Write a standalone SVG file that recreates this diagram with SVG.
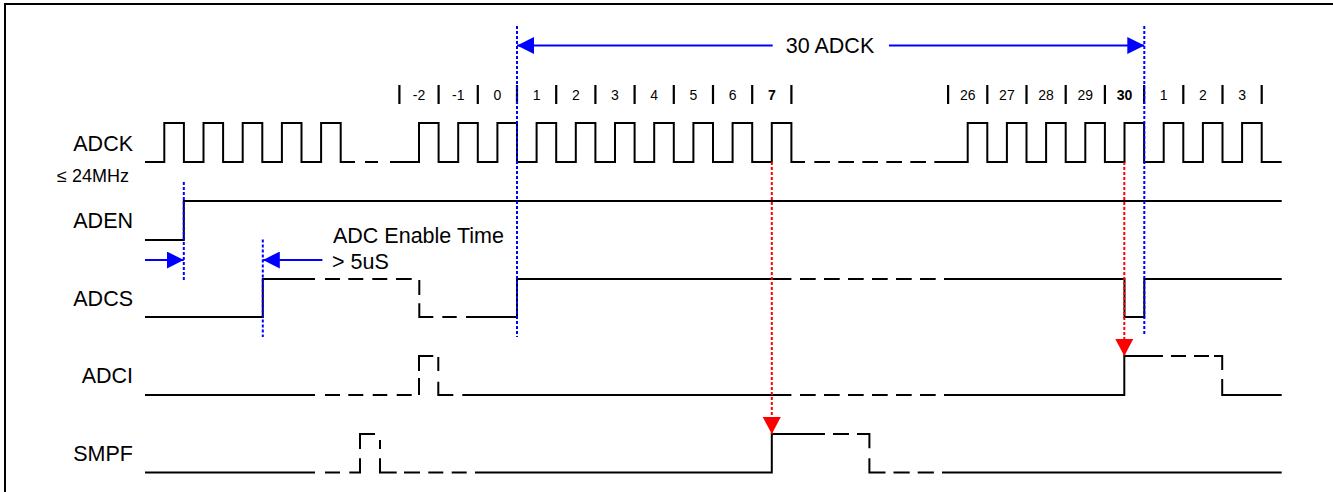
<svg xmlns="http://www.w3.org/2000/svg" width="1333" height="492" viewBox="0 0 1333 492">
<defs>
<style>
.w{fill:none;stroke:#000;stroke-width:2;stroke-linejoin:miter;stroke-linecap:butt}
.t{font-family:"Liberation Sans",Arial,sans-serif;fill:#000}
.lbl{font-size:21.5px;text-anchor:end}
.num{font-size:14px;text-anchor:middle}
.b{font-weight:bold}
.bar{stroke:#000;stroke-width:2.2}
.bdot{fill:none;stroke:#0000FF;stroke-width:2;stroke-dasharray:3 2}
.rdot{fill:none;stroke:#FF0000;stroke-width:2;stroke-dasharray:3 2}
.barr{fill:none;stroke:#0000FF;stroke-width:2}
</style>
<marker id="ab" markerUnits="userSpaceOnUse" markerWidth="17" markerHeight="17" viewBox="0 0 17 17" refX="17" refY="8.5" orient="auto"><path d="M0,0L17,8.5L0,17z" fill="#0000FF"/></marker>
<marker id="ar" markerUnits="userSpaceOnUse" markerWidth="17" markerHeight="18" viewBox="0 0 17 18" refX="17" refY="9" orient="auto"><path d="M0,0L17,9L0,18z" fill="#FF0000"/></marker>
</defs>
<rect width="1333" height="492" fill="#fff"/>
<path id="frame" d="M5,492V4H1333" fill="none" stroke="#000" stroke-width="2"/>

<g id="timescale">
<path class="bar" d="M399.4,85V104M438.6,85V104M477.8,85V104M517,85V104M556.2,85V104M595.4,85V104M634.6,85V104M673.8,85V104M713,85V104M752.2,85V104M791.4,85V104M948.1,85V104M987.3,85V104M1026.5,85V104M1065.7,85V104M1104.9,85V104M1144.1,85V104M1183.3,85V104M1222.5,85V104M1261.7,85V104"/>
<g class="t num">
<text x="419" y="99.5">-2</text>
<text x="458.2" y="99.5">-1</text>
<text x="497.4" y="99.5">0</text>
<text x="536.6" y="99.5">1</text>
<text x="575.8" y="99.5">2</text>
<text x="615" y="99.5">3</text>
<text x="654.2" y="99.5">4</text>
<text x="693.4" y="99.5">5</text>
<text x="732.6" y="99.5">6</text>
<text x="771.8" y="99.5" class="b">7</text>
<text x="967.7" y="99.5">26</text>
<text x="1006.9" y="99.5">27</text>
<text x="1046.1" y="99.5">28</text>
<text x="1085.3" y="99.5">29</text>
<text x="1124.5" y="99.5" class="b">30</text>
<text x="1163.7" y="99.5">1</text>
<text x="1202.9" y="99.5">2</text>
<text x="1242.1" y="99.5">3</text>
</g>
</g>

<g id="adck">
<text class="t lbl" x="133" y="151">ADCK</text>
<text class="t" x="129" y="182" font-size="18" text-anchor="end">≤ 24MHz</text>
<path class="w" d="M145,162H164.3V123H183.9V162H203.5V123H223.1V162H242.7V123H262.3V162H281.9V123H301.5V162H321.1V123H340.7V162H355M365,162H378M390,162H419V123H438.6V162H458.2V123H477.8V162H497.4V123H517V162H536.6V123H556.2V162H575.8V123H595.4V162H615V123H634.6V162H654.2V123H673.8V162H693.4V123H713V162H732.6V123H752.2V162H771.8V123H791.4V162H805M814.3,162H830M838.3,162H854M862.3,162H878M886.3,162H902M910.3,162H926M934.3,162H967.7V123H987.3V162H1006.9V123H1026.5V162H1046.1V123H1065.7V162H1085.3V123H1104.9V162H1124.5V123H1144.1V162H1163.7V123H1183.3V162H1202.9V123H1222.5V162H1242.1V123H1261.7V162H1281.7"/>
</g>

<g id="aden">
<text class="t lbl" x="133" y="227.5">ADEN</text>
<path class="w" d="M145,240H183.8V201H1281.7"/>
</g>

<g id="adcs">
<text class="t lbl" x="133" y="305.5">ADCS</text>
<path class="w" d="M145,317H262.8V279H315M325,279H340M348.3,279H363.3M372.3,279H387.3M396,279H411.7M419.3,280V295M419.3,303.3V317H433.3M442.3,317H456.7M466,317H517V279H791.4M800,279H815.7M824,279H839.7M848,279H863.7M872,279H887.7M896,279H911.7M920,279H935.7M944,279H1124.5V317H1144.3V279H1281.7"/>
</g>

<g id="adci">
<text class="t lbl" x="133" y="382.5">ADCI</text>
<path class="w" d="M145,395H315M325,395H340M348.3,395H363.3M372.7,395H387.3M396.7,395H411.7M419,395V378M419,371V356H433.3M438.3,357V371M438.3,381.7V395H453.3M462.3,395H791.4M800,395H815.7M824,395H839.7M848,395H863.7M872,395H887.7M896,395H911.7M920,395H935.7M944,395H1124.3V356H1163M1171,356H1186M1194,356H1209M1214,356H1222.2V370M1222.2,379V395H1281.7"/>
</g>

<g id="smpf">
<text class="t lbl" x="133" y="460.5">SMPF</text>
<path class="w" d="M145,472.5H315M325,472.5H340M349.3,472.5H360V458.3M360,449V434H375M380,440V449M380,458.3V472.5H396.7M404,472.5H420M428.3,472.5H443.3M451.7,472.5H466.7M475,472.5H771.8V434H825M833,434H849M857,434H869.4V448.3M869.4,458.3V472.5H885.5M893.5,472.5H909.7M917.7,472.5H933.9M942,472.5H1281.7"/>
</g>

<g id="annotations">
<text class="t" x="830" y="53.3" font-size="21.5" text-anchor="middle">30 ADCK</text>
<text class="t" x="333" y="242.7" font-size="21.5">ADC Enable Time</text>
<text class="t" x="332" y="269" font-size="21.5">&gt; 5uS</text>
</g>

<g id="connectors">
<line class="barr" x1="772.7" y1="45.5" x2="517" y2="45.5" marker-end="url(#ab)"/>
<line class="barr" x1="889" y1="45.5" x2="1144.3" y2="45.5" marker-end="url(#ab)"/>
<line class="bdot" x1="517" y1="26" x2="517" y2="337"/>
<line class="bdot" x1="1144.3" y1="26" x2="1144.3" y2="336"/>
<line class="bdot" x1="183.8" y1="182" x2="183.8" y2="280"/>
<line class="bdot" x1="262.8" y1="239.5" x2="262.8" y2="337"/>
<line class="barr" x1="145" y1="260" x2="183.8" y2="260" marker-end="url(#ab)"/>
<line class="barr" x1="322.4" y1="260" x2="262.8" y2="260" marker-end="url(#ab)"/>
<line class="rdot" x1="771.8" y1="162" x2="771.8" y2="434" marker-end="url(#ar)"/>
<line class="rdot" x1="1124.3" y1="162" x2="1124.3" y2="356" marker-end="url(#ar)"/>
</g>
</svg>
